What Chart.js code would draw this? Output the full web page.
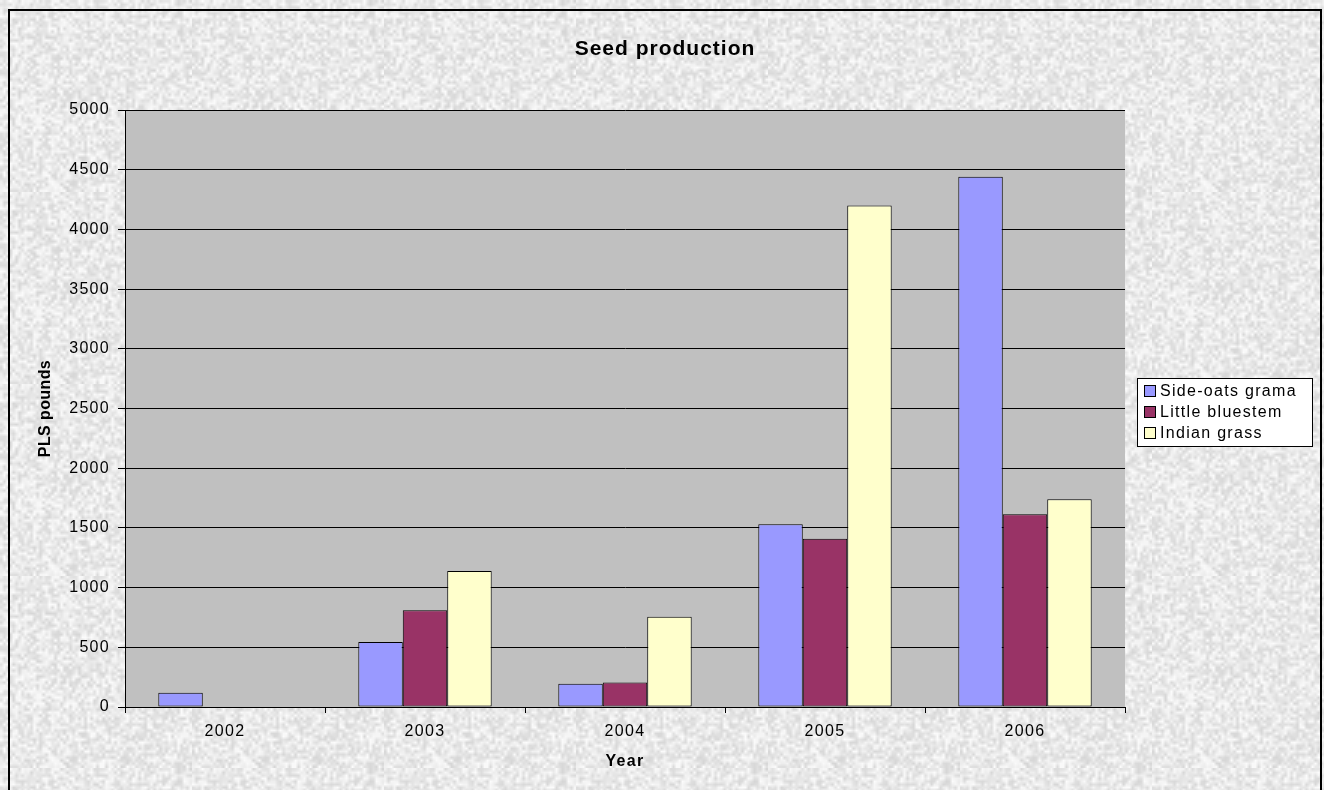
<!DOCTYPE html>
<html><head><meta charset="utf-8">
<script src="https://cdn.jsdelivr.net/npm/chart.js@4/dist/chart.umd.min.js"></script>
<style>
html,body{margin:0;padding:0;background:#e8e8e8;}
#wrap{width:1324px;height:790px;position:relative;}
canvas{display:block;}
</style>
</head><body>
<div id="wrap"><canvas id="c" width="1324" height="790"></canvas></div>
<script>
const years = ['2002', '2003', '2004', '2005', '2006'];
const sideOatsGrama = [120, 545, 195, 1530, 4440];
const littleBluestem = [null, 810, 205, 1410, 1615];
const indianGrass = [null, 1140, 755, 4200, 1740];
const seriesNames = ['Side-oats grama', 'Little bluestem', 'Indian grass'];
const seriesColors = ['#9999ff', '#993366', '#ffffcc'];
const yTickValues = [0, 500, 1000, 1500, 2000, 2500, 3000, 3500, 4000, 4500, 5000];
const chartTitle = 'Seed production';
const xTitle = 'Year';
const yTitle = 'PLS pounds';

const FAMILY = '"Liberation Sans", Arial, sans-serif';
const TICK_SPACING = '1.3px';

// deterministic paper-like texture for the chart background
function makeTexture() {
  const small = document.createElement('canvas');
  small.width = 64; small.height = 64;
  const sctx = small.getContext('2d');
  const img = sctx.createImageData(64, 64);
  let seed = 12345;
  const next = () => { seed = (seed * 1103515245 + 12345) & 0x7fffffff; return seed / 0x7fffffff; };
  for (let i = 0; i < 64 * 64; i++) {
    const g = Math.round(214 + next() * 38);
    img.data[i * 4] = g; img.data[i * 4 + 1] = g; img.data[i * 4 + 2] = g; img.data[i * 4 + 3] = 255;
  }
  sctx.putImageData(img, 0, 0);
  const big = document.createElement('canvas');
  big.width = 192; big.height = 192;
  const bctx = big.getContext('2d');
  bctx.imageSmoothingEnabled = true;
  bctx.drawImage(small, 0, 0, 192, 192);
  return big;
}
const texture = makeTexture();

const decor = {
  id: 'decor',
  beforeLayout(chart) { chart.ctx.letterSpacing = TICK_SPACING; },
  beforeDraw(chart) {
    const ctx = chart.ctx, a = chart.chartArea;
    ctx.letterSpacing = TICK_SPACING;
    ctx.save();
    ctx.fillStyle = ctx.createPattern(texture, 'repeat');
    ctx.fillRect(0, 0, chart.width, chart.height);
    ctx.fillStyle = '#c0c0c0';
    ctx.fillRect(a.left, a.top, a.right - a.left, a.bottom - a.top);
    ctx.restore();
  },
  afterDraw(chart) {
    const ctx = chart.ctx, a = chart.chartArea;
    ctx.save();
    // outer frame
    ctx.strokeStyle = '#000';
    ctx.lineWidth = 2;
    ctx.beginPath();
    ctx.moveTo(9, 800); ctx.lineTo(9, 10); ctx.lineTo(1321, 10); ctx.lineTo(1321, 800);
    ctx.stroke();
    // title
    ctx.fillStyle = '#000';
    ctx.textAlign = 'center';
    ctx.textBaseline = 'middle';
    ctx.letterSpacing = '1px';
    ctx.font = 'bold 21px ' + FAMILY;
    ctx.fillText(chartTitle, 665, 49);
    // x title
    ctx.font = 'bold 16px ' + FAMILY;
    ctx.letterSpacing = '1.3px';
    ctx.fillText(xTitle, (a.left + a.right) / 2, 762);
    // y title
    ctx.save();
    ctx.translate(46, (a.top + a.bottom) / 2);
    ctx.rotate(-Math.PI / 2);
    ctx.letterSpacing = '0.4px';
    ctx.fillText(yTitle, 0, 0);
    ctx.restore();
    // legend
    const lx = 1137, ly = 378, lw = 175, lh = 68;
    ctx.fillStyle = '#fff';
    ctx.fillRect(lx, ly, lw, lh);
    ctx.strokeStyle = '#000';
    ctx.lineWidth = 1;
    ctx.strokeRect(lx + 0.5, ly + 0.5, lw, lh);
    ctx.font = '16px ' + FAMILY;
    ctx.letterSpacing = '1.3px';
    ctx.textAlign = 'left';
    chart.data.datasets.forEach((ds, i) => {
      const cy = ly + 13 + i * 21;
      ctx.fillStyle = ds.backgroundColor;
      ctx.fillRect(lx + 7.5, cy - 5.5, 11, 11);
      ctx.strokeRect(lx + 7.5, cy - 5.5, 11, 11);
      ctx.fillStyle = '#000';
      ctx.fillText(ds.label, lx + 23, cy + 1);
    });
    ctx.restore();
  }
};

const datasets = [sideOatsGrama, littleBluestem, indianGrass].map((vals, i) => ({
  label: seriesNames[i],
  data: vals,
  backgroundColor: seriesColors[i],
  borderColor: '#000',
  borderWidth: 1,
  borderSkipped: false,
  categoryPercentage: 0.667,
  barPercentage: 1.0
}));

new Chart(document.getElementById('c'), {
  type: 'bar',
  data: { labels: years, datasets },
  options: {
    responsive: false,
    animation: false,
    devicePixelRatio: 1,
    layout: { padding: { top: 110, right: 199, left: 0, bottom: 0 } },
    plugins: { legend: { display: false }, title: { display: false }, tooltip: { enabled: false } },
    scales: {
      x: {
        grid: { offset: true, drawOnChartArea: false, color: '#000', tickLength: 6, tickColor: '#000' },
        border: { color: '#000', width: 1 },
        ticks: { color: '#000', font: { family: FAMILY, size: 16 }, padding: 9, maxRotation: 0 },
        afterFit(s) { s.height = 83; }
      },
      y: {
        min: 0, max: 5000,
        afterBuildTicks(s) { s.ticks = yTickValues.map(v => ({ value: v })); },
        grid: { color: '#000', tickLength: 7, tickColor: '#000' },
        border: { color: '#000', width: 1 },
        ticks: { color: '#000', font: { family: FAMILY, size: 16 }, padding: 8, callback: v => String(v) },
        afterFit(s) { s.width = 125; }
      }
    }
  },
  plugins: [decor]
});
</script>
</body></html>
